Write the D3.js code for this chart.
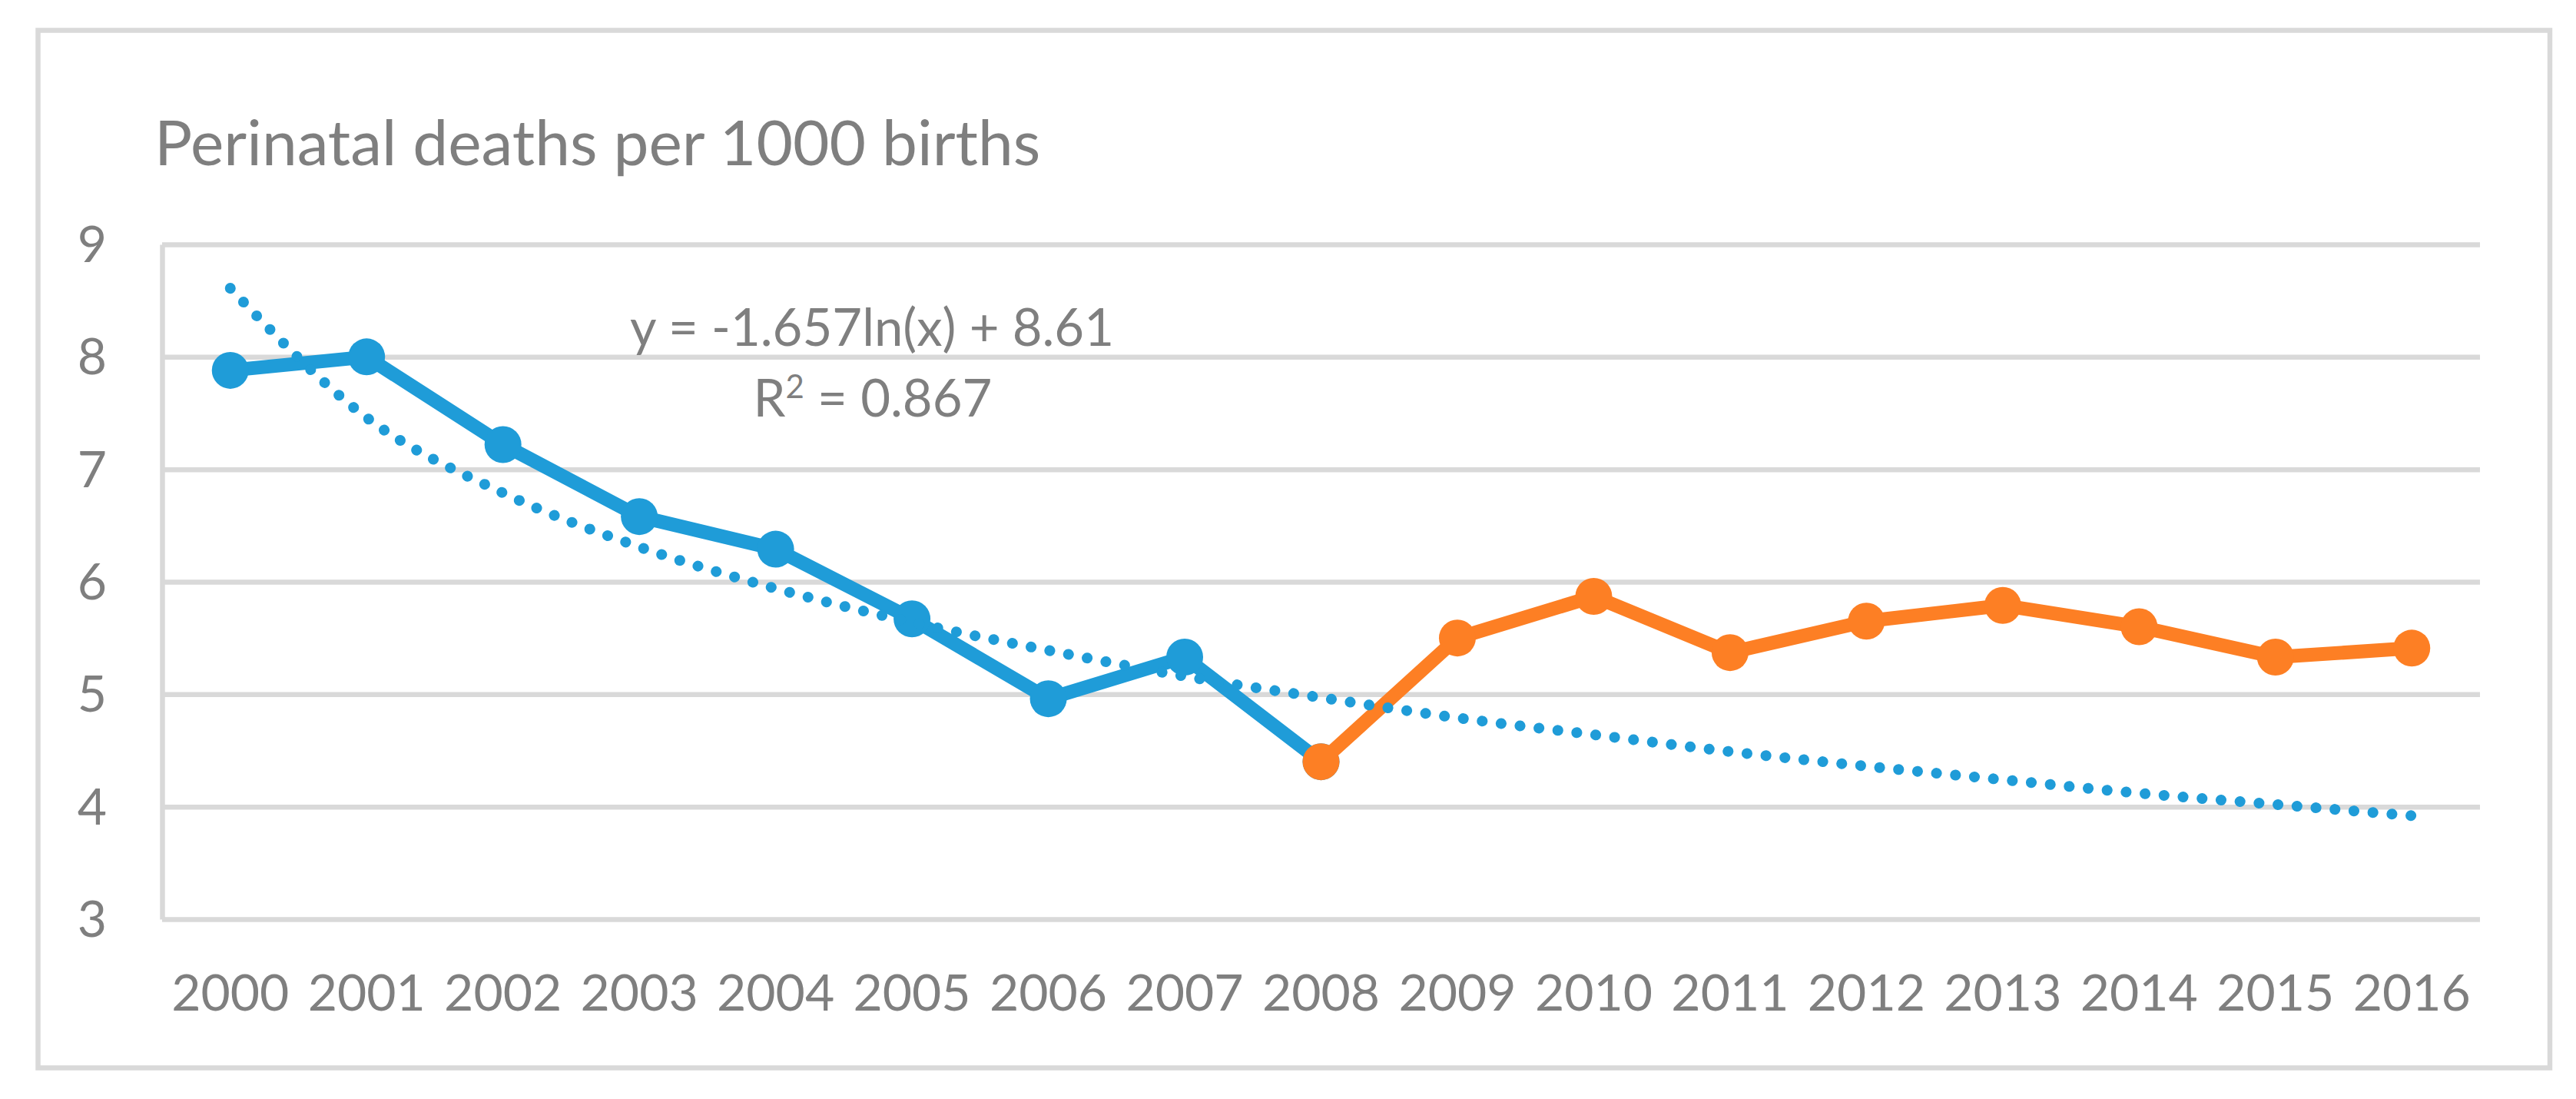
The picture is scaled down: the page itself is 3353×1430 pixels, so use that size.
<!DOCTYPE html>
<html>
<head>
<meta charset="utf-8">
<script src="https://cdn.jsdelivr.net/npm/d3@7"></script>
<style>
  body { margin: 0; background: #fff; }
  text { font-family: Lato, "Open Sans", sans-serif; fill: #7f7f7f; }
</style>
</head>
<body>
<svg width="3353" height="1430"></svg>
<script>
// chart data
const years = ["2000", "2001", "2002", "2003", "2004", "2005", "2006", "2007", "2008",
               "2009", "2010", "2011", "2012", "2013", "2014", "2015", "2016"];
const blueYears = years.slice(0, 9);
const blueValues = [7.88, 8.00, 7.22, 6.58, 6.29, 5.67, 4.96, 5.33, 4.40];
const orangeYears = years.slice(8);
const orangeValues = [4.40, 5.50, 5.87, 5.37, 5.65, 5.79, 5.60, 5.33, 5.41];
// dotted log trendline, values read at each year
const trendValues = [8.61, 7.46, 6.79, 6.31, 5.94, 5.64, 5.39, 5.16, 4.97,
                     4.79, 4.64, 4.49, 4.36, 4.24, 4.12, 4.02, 3.92];
const yTicks = [3, 4, 5, 6, 7, 8, 9];
const titleText = "Perinatal deaths per 1000 births";
const eqText = "y = -1.657ln(x) + 8.61";
const r2Text = "0.867";

const blue = "#1f9cd8", orange = "#fd7f24", grid = "#d9d9d9";

const svg = d3.select("svg");

// outer frame
svg.append("rect")
  .attr("x", 49.5).attr("y", 39.5)
  .attr("width", 3269.5).attr("height", 1350)
  .attr("fill", "#fff")
  .attr("stroke", grid)
  .attr("stroke-width", 6.5);

const plotLeft = 211, plotRight = 3228, plotTop = 318, plotBottom = 1196;

const x = d3.scaleBand().domain(years).range([plotLeft, plotRight]).padding(0);
const cx = d => x(d) + x.bandwidth() / 2;
const y = d3.scaleLinear().domain([3, 9]).range([plotBottom, plotTop]);

// y axis + gridlines
const yAxis = svg.append("g")
  .attr("transform", `translate(${plotLeft},0)`)
  .call(d3.axisLeft(y).tickValues(yTicks).tickFormat(d3.format("d"))
    .tickSize(-(plotRight - plotLeft)).tickSizeOuter(0).tickPadding(72));
yAxis.selectAll("path, line").attr("stroke", grid).attr("stroke-width", 6.5);
yAxis.selectAll("text").attr("font-size", 66).attr("fill", "#7f7f7f").attr("dy", "0.34em");

// x axis labels
const xAxis = svg.append("g")
  .attr("transform", `translate(0,${plotBottom})`)
  .call(d3.axisBottom(x).tickSize(0).tickPadding(72));
xAxis.select(".domain").remove();
xAxis.selectAll("text").attr("font-size", 66).attr("fill", "#7f7f7f");

// title
svg.append("text")
  .attr("x", 201).attr("y", 215)
  .attr("font-size", 82)
  .text(titleText);

const line = d3.line().x(d => cx(d[0])).y(d => y(d[1]));

function drawSeries(cats, vals, color) {
  const pts = cats.map((c, i) => [c, vals[i]]);
  svg.append("path")
    .datum(pts)
    .attr("d", line)
    .attr("fill", "none")
    .attr("stroke", color)
    .attr("stroke-width", 18)
    .attr("stroke-linejoin", "round");
  svg.append("g").selectAll("circle")
    .data(pts)
    .join("circle")
    .attr("cx", d => cx(d[0]))
    .attr("cy", d => y(d[1]))
    .attr("r", 24)
    .attr("fill", color);
}

drawSeries(blueYears, blueValues, blue);
drawSeries(orangeYears, orangeValues, orange);

// trendline
svg.append("path")
  .datum(years.map((c, i) => [c, trendValues[i]]))
  .attr("d", d3.line().x(d => cx(d[0])).y(d => y(d[1])).curve(d3.curveMonotoneX))
  .attr("fill", "none")
  .attr("stroke", blue)
  .attr("stroke-width", 14)
  .attr("stroke-linecap", "round")
  .attr("stroke-dasharray", "0.1 24.7");

// trend label
svg.append("text")
  .attr("x", 1135).attr("y", 450)
  .attr("text-anchor", "middle")
  .attr("font-size", 67)
  .text(eqText);
const r2 = svg.append("text")
  .attr("x", 1136).attr("y", 542)
  .attr("text-anchor", "middle")
  .attr("font-size", 67);
r2.append("tspan").text("R");
r2.append("tspan").attr("font-size", 42).attr("dy", -24).text("2");
r2.append("tspan").attr("dy", 24).text(" = " + r2Text);
</script>
</body>
</html>
